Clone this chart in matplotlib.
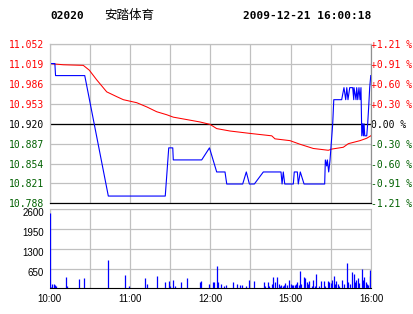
import matplotlib
matplotlib.use("Agg")
import matplotlib.pyplot as plt
import matplotlib.transforms as mtransforms
import numpy as np

# trading minutes since 10:00 (10:00-12:30, 14:30-16:00 -> 0..240)
price_t = [0, 4, 4.5, 26.3, 43.9, 86.4, 89.0, 92.0, 92.4, 113.6, 119.4, 124.8, 131.0, 132.3,
           144.2, 146.9, 149.2, 152.9, 159.6, 172.8, 173.6, 174.5, 175.6, 182.0, 182.7, 185.0,
           185.7, 187.2, 190.0, 205.4, 205.9, 206.9, 207.4, 208.4, 209.4, 211.4, 212.2, 218.1,
           219.8, 221.1, 221.9, 222.8, 224.1, 226.3, 227.1, 227.3, 228.8, 229.3, 230.1, 231.0,
           231.8, 232.5, 233.1, 233.8, 234.3, 234.8, 235.3, 236.8, 237.5, 238.3, 239.0, 239.8]
price = [11.02, 11.02, 11.00, 11.00, 10.80, 10.80, 10.88, 10.88, 10.86, 10.86, 10.88, 10.84, 10.84, 10.82,
         10.82, 10.84, 10.82, 10.82, 10.84, 10.84, 10.82, 10.84, 10.82, 10.82, 10.84, 10.84,
         10.82, 10.84, 10.82, 10.82, 10.86, 10.85, 10.86, 10.84, 10.86, 10.92, 10.96, 10.96,
         10.98, 10.96, 10.98, 10.96, 10.98, 10.98, 10.96, 10.98, 10.96, 10.98, 10.96, 10.98,
         10.96, 10.98, 10.90, 10.92, 10.90, 10.92, 10.90, 10.90, 10.92, 10.95, 10.98, 11.00]

avg_t = [0, 10.3, 25.2, 29.7, 35.2, 42.7, 50.2, 55.1, 65.1, 72.6, 80.0, 87.5, 92.4, 102.4, 112.3,
         119.8, 124.8, 134.7, 149.7, 165.9, 168.3, 179.5, 187.0, 196.9, 208.1, 210.7, 219.3,
         223.1, 231.8, 236.8, 239.8]
avg_price = [11.020, 11.018, 11.017, 11.009, 10.993, 10.973, 10.965, 10.960, 10.955, 10.948, 10.940,
             10.935, 10.931, 10.927, 10.923, 10.919, 10.912, 10.908, 10.904, 10.900, 10.895, 10.892,
             10.886, 10.879, 10.876, 10.878, 10.881, 10.887, 10.892, 10.896, 10.900]

vol_t = [0.6, 1.3, 2, 3, 4, 5, 12, 13, 22, 26, 44, 56, 59, 71, 73, 80, 86, 89, 90, 92, 94, 98, 103,
         112, 113, 119, 122, 123, 125, 126, 128, 130, 132, 137, 140, 142, 144, 147, 149, 153,
         160, 161, 163, 164, 166, 167, 168, 170, 171, 172, 173, 174, 175, 176, 177, 179, 180,
         181, 182, 183, 184, 185, 186, 187, 188, 190, 191, 192, 193, 194, 196, 197, 198, 199,
         201, 203, 205, 206, 208, 209, 210, 211, 212, 213, 214, 215, 216, 218, 220, 222, 223,
         224, 226, 227, 228, 229, 230, 231, 233, 234, 235, 236, 237, 238, 239, 239.6]
vol = [2490, 30, 140, 140, 110, 75, 370, 75, 305, 340, 930, 440, 75, 340, 140, 405, 205, 240, 75, 275, 75, 205, 340,
       205, 240, 140, 205, 205, 735, 205, 140, 75, 110, 205, 140, 110, 110, 75, 275, 240,
       205, 75, 205, 75, 140, 370, 205, 370, 140, 75, 110, 75, 110, 170, 110, 275, 140,
       110, 110, 110, 140, 205, 110, 570, 140, 370, 340, 205, 140, 240, 75, 275, 75, 470,
       75, 240, 240, 75, 240, 205, 170, 275, 405, 140, 240, 140, 75, 275, 140, 830, 205,
       140, 535, 470, 205, 275, 340, 170, 635, 275, 370, 205, 140, 110, 405, 600]

prev_close = 10.920
price_step = 0.033
vol_ticks = [650, 1300, 1950, 2600]
time_ticks = [0, 60, 120, 180, 240]
time_labels = ["10:00", "11:00", "12:00", "15:00", "16:00"]

RED = "#ff0000"
GREEN = "#006000"
GRID = "#c0c0c0"
MONO = "DejaVu Sans Mono"
SANS = "Liberation Sans"

fig = plt.figure(figsize=(4.14, 3.14), dpi=100)
fig.patch.set_facecolor("white")

ax = fig.add_axes([0.1196, 0.3526, 0.7766, 0.5064])
axv = fig.add_axes([0.1196, 0.0818, 0.7766, 0.2516])

price_ticks = [prev_close + price_step * i for i in range(-4, 5)]

# price panel
ax.plot(avg_t, avg_price, color=RED, lw=0.75, zorder=3)
ax.plot(price_t, price, color="#0000ff", lw=0.8, zorder=4)
ax.set_xlim(0, 240)
ax.set_ylim(price_ticks[0], price_ticks[-1])
ax.set_xticks(np.arange(0, 241, 30))
ax.set_xticklabels([])
ax.set_yticks(price_ticks)
ax.grid(True, color=GRID, lw=0.9)
ax.axhline(prev_close, color="black", lw=0.9, zorder=2)
ax.tick_params(length=0, labelsize=7, pad=4)
ax.set_yticklabels(["%.3f" % p for p in price_ticks], family=MONO)
for p, lab in zip(price_ticks, ax.get_yticklabels()):
    lab.set_color(RED if p > prev_close + 1e-9 else ("black" if abs(p - prev_close) < 1e-9 else GREEN))

axr = ax.twinx()
axr.set_ylim(ax.get_ylim())
axr.set_yticks(price_ticks)
pct = [(p - prev_close) / prev_close * 100 for p in price_ticks]
axr.set_yticklabels([("+%.2f %%" % v) if v > 0.001 else ("%.2f %%" % v if v < -0.001 else "0.00 %") for v in pct],
                    family=MONO)
axr.tick_params(length=0, labelsize=7, pad=0)
for v, lab in zip(pct, axr.get_yticklabels()):
    lab.set_color(RED if v > 0.001 else (GREEN if v < -0.001 else "black"))

for a in (ax, axr):
    for s in a.spines.values():
        s.set_color(GRID)
    a.spines["bottom"].set_color("black")
    a.spines["right"].set_color("#909090")

# volume panel
axv.vlines(vol_t, 0, vol, color="#0000ff", lw=0.9, zorder=3)
axv.set_xlim(0, 240)
axv.set_ylim(0, 2600)
axv.set_yticks(vol_ticks)
axv.set_xticks(np.arange(0, 241, 30))
axv.set_xticklabels([time_labels[time_ticks.index(t)] if t in time_ticks else "" for t in range(0, 241, 30)],
                    family=SANS)
axv.set_yticklabels([str(v) for v in vol_ticks], family=SANS)
axv.grid(True, color=GRID, lw=0.9)
axv.set_axisbelow(True)
axv.tick_params(length=0, labelsize=7, pad=4)
shift = mtransforms.ScaledTranslation(0, -3 / 100, fig.dpi_scale_trans)
for lab in axv.get_yticklabels():
    lab.set_transform(lab.get_transform() + shift)
for s in axv.spines.values():
    s.set_color(GRID)
axv.spines["bottom"].set_color("black")

# header
fig.text(50 / 414, 1 - 16 / 314, "02020", family=MONO, weight="bold", fontsize=8, va="center")
fig.text(104 / 414, 1 - 16 / 314, "安踏体育", family=["Noto Sans CJK SC", "DejaVu Sans"], fontsize=9, va="center")
fig.text(371 / 414, 1 - 16 / 314, "2009-12-21 16:00:18", family=MONO, weight="bold", fontsize=8,
         va="center", ha="right")

fig.savefig("out.png", dpi=100)
